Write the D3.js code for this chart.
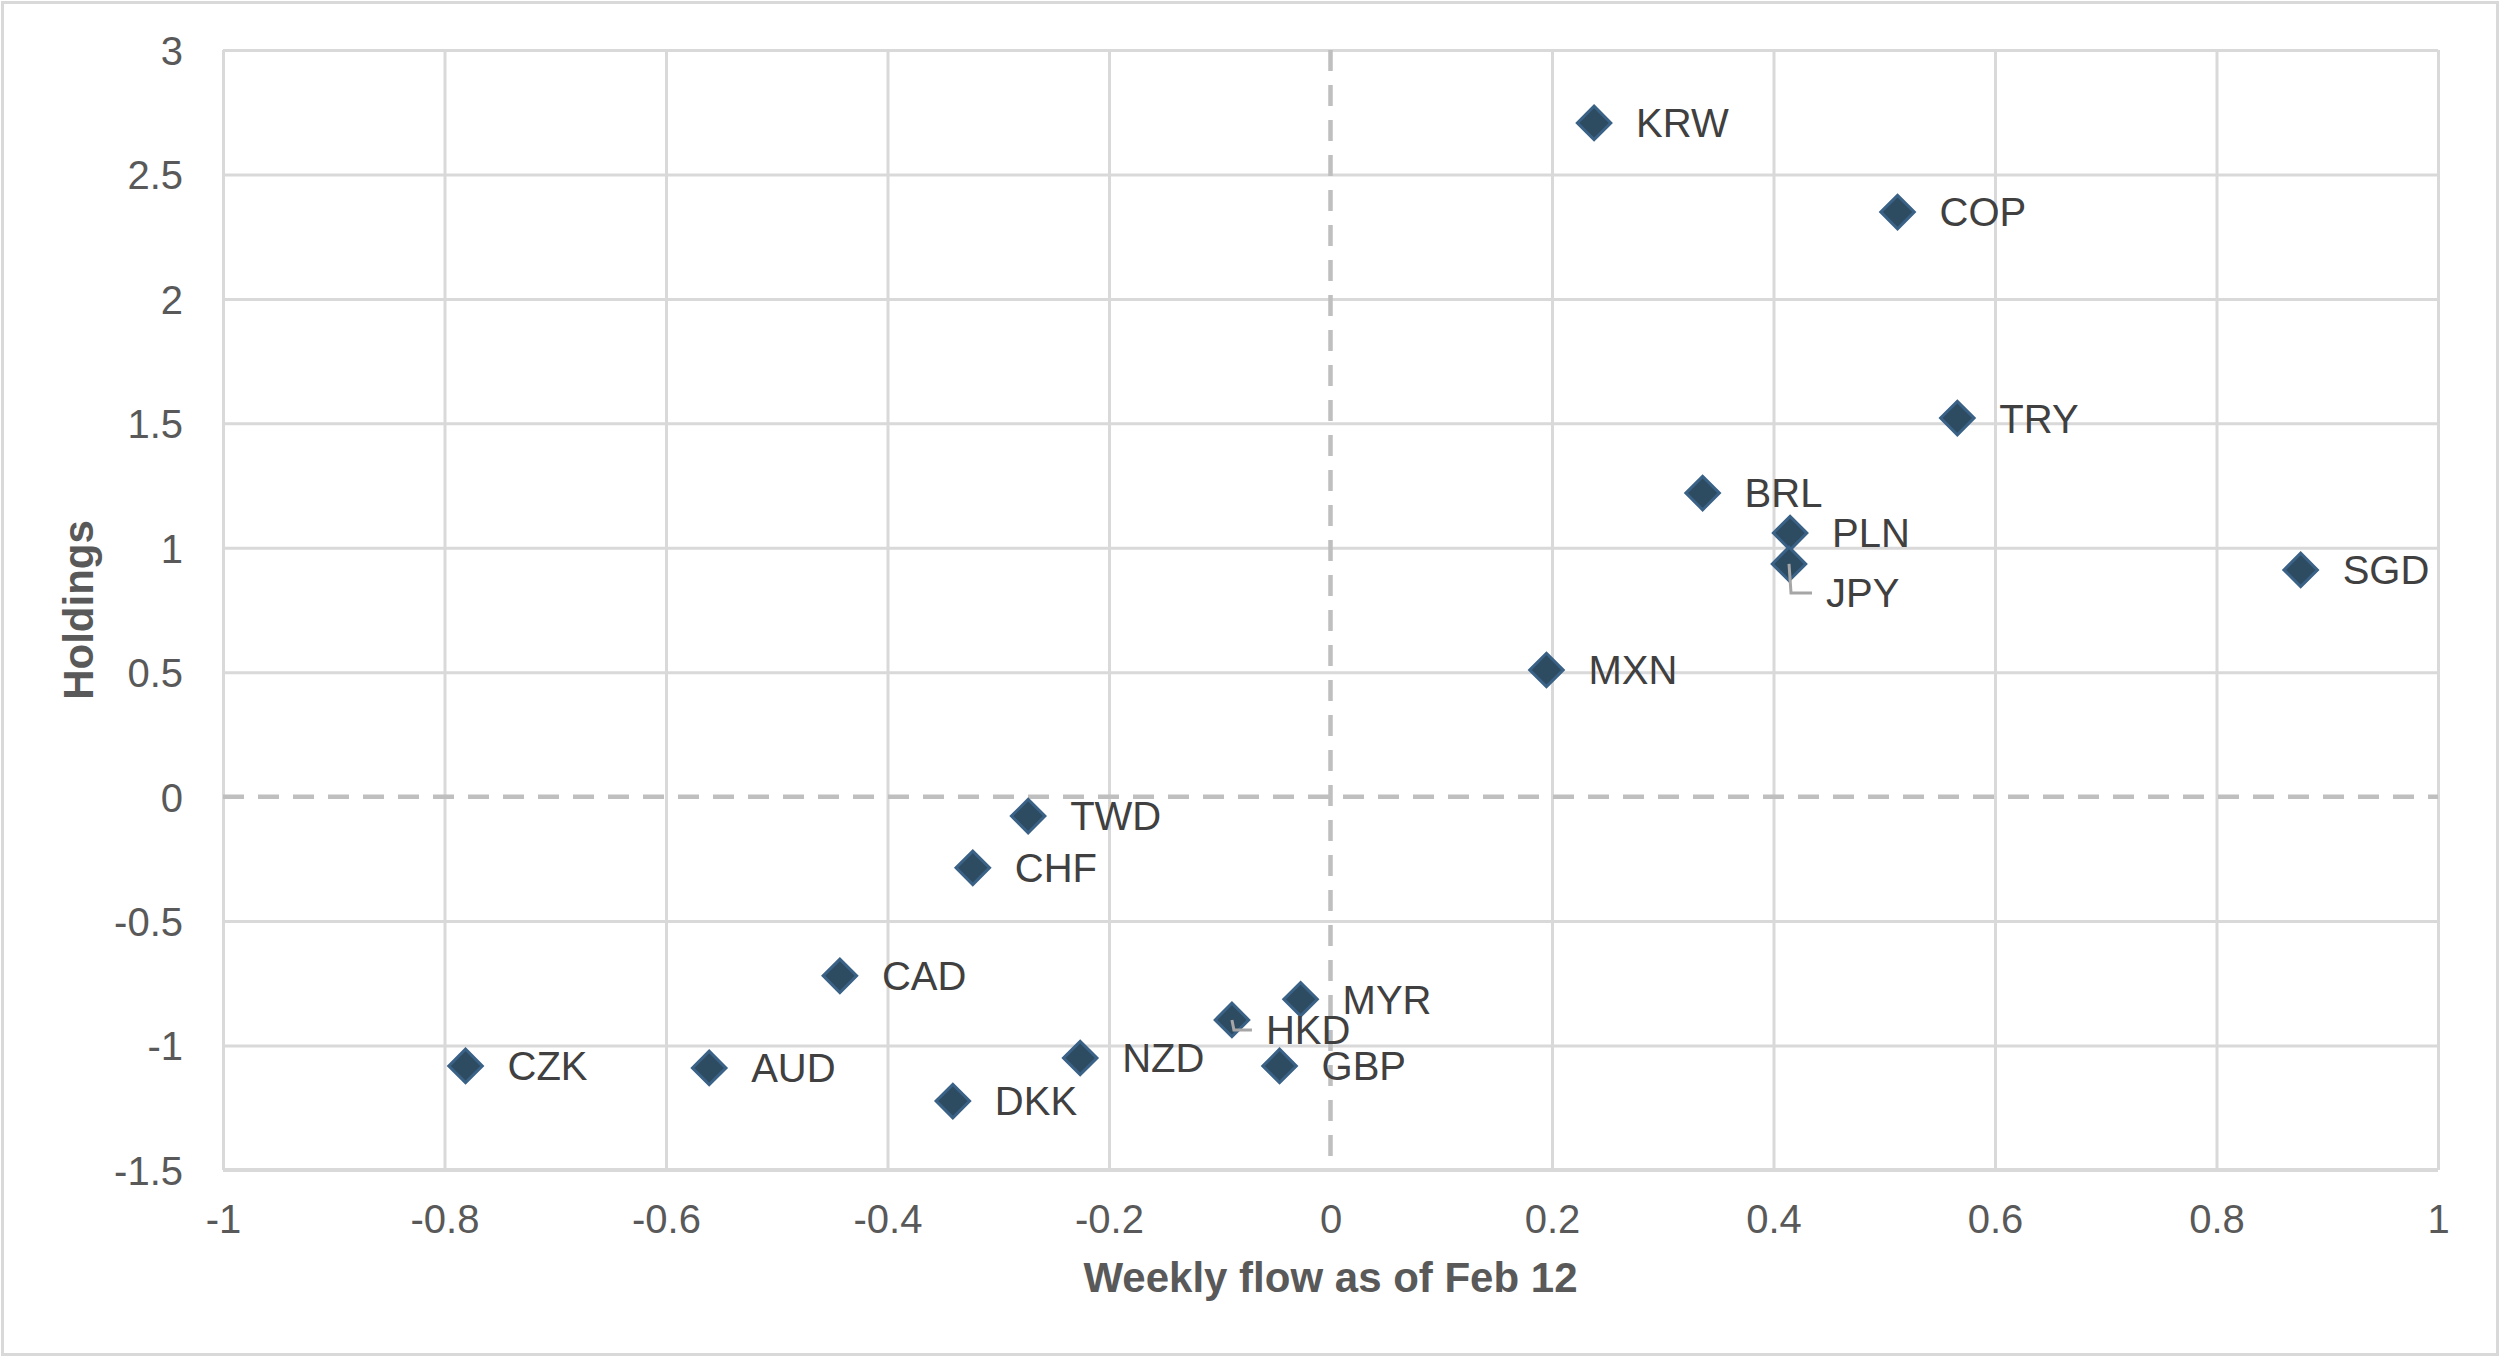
<!DOCTYPE html>
<html>
<head>
<meta charset="utf-8">
<script src="https://cdn.jsdelivr.net/npm/d3@7"></script>
<style>
  body { margin: 0; background: #fff; }
  svg { display: block; font-family: "Liberation Sans", Arial, sans-serif; }
</style>
</head>
<body>
<svg id="chart"></svg>
<script>
'use strict';

let WIDTH = 2500;
let HEIGHT = 1358;

// currency, weekly flow, holdings
let currencies = ['KRW', 'COP', 'TRY', 'BRL', 'PLN', 'JPY', 'SGD', 'MXN', 'TWD', 'CHF',
                  'CAD', 'MYR', 'HKD', 'NZD', 'GBP', 'CZK', 'AUD', 'DKK'];
let flows = [0.238, 0.512, 0.566, 0.336, 0.415, 0.414, 0.876, 0.195, -0.273, -0.323,
             -0.443, -0.027, -0.089, -0.226, -0.046, -0.781, -0.561, -0.341];
let holdings = [2.707, 2.349, 1.521, 1.220, 1.059, 0.935, 0.911, 0.509, -0.078, -0.286,
                -0.720, -0.814, -0.897, -1.050, -1.082, -1.082, -1.090, -1.223];

let xTicks = [-1, -0.8, -0.6, -0.4, -0.2, 0, 0.2, 0.4, 0.6, 0.8, 1];
let yTicks = [-1.5, -1, -0.5, 0, 0.5, 1, 1.5, 2, 2.5, 3];

let xTitle = 'Weekly flow as of Feb 12';
let yTitle = 'Holdings';

// labels that were dragged away from the marker (pixel offsets, with a leader line)
let moved = {
    JPY: { dx: 37, dy: 29 },
    HKD: { dx: 34, dy: 10 }
};

let COLOR = {
    GRID: '#d9d9d9',
    ZERO: '#bfbfbf',
    TICK: '#595959',
    LABEL: '#404040',
    FILL: '#2d4b61',
    STROKE: '#3a6186',
    LEADER: '#a6a6a6'
};

let M = { left: 223, right: 2438, top: 50, bottom: 1170 };

let svg = d3.select('#chart').attr('width', WIDTH).attr('height', HEIGHT);

// outer frame
svg.append('rect')
    .attr('x', 2.5).attr('y', 2.5)
    .attr('width', WIDTH - 5).attr('height', HEIGHT - 6)
    .attr('fill', '#fff')
    .attr('stroke', COLOR.GRID)
    .attr('stroke-width', 3);

let x = d3.scaleLinear().domain([-1, 1]).range([M.left, M.right]);
let y = d3.scaleLinear().domain([-1.5, 3]).range([M.bottom, M.top]);

let fmt = function(d) { return String(+d.toFixed(1)); };

// x gridlines + labels
let gx = svg.append('g')
    .attr('transform', 'translate(0,' + M.bottom + ')')
    .call(d3.axisBottom(x).tickValues(xTicks).tickFormat(fmt)
        .tickSizeInner(-(M.bottom - M.top)).tickSizeOuter(0).tickPadding(36));
gx.select('.domain').remove();
gx.selectAll('.tick line')
    .attr('stroke', COLOR.GRID).attr('stroke-width', 3)
    .attr('display', function(d) { return d === 0 ? 'none' : null; });
gx.selectAll('.tick text')
    .attr('fill', COLOR.TICK).attr('font-size', 40).attr('font-family', null)
    .attr('dy', null).attr('y', 63);

// y gridlines + labels
let gy = svg.append('g')
    .attr('transform', 'translate(' + M.left + ',0)')
    .call(d3.axisLeft(y).tickValues(yTicks).tickFormat(fmt)
        .tickSizeInner(-(M.right - M.left)).tickSizeOuter(0).tickPadding(40));
gy.select('.domain').remove();
gy.selectAll('.tick line')
    .attr('stroke', COLOR.GRID).attr('stroke-width', 3)
    .attr('display', function(d) { return d === 0 ? 'none' : null; });
gy.selectAll('.tick text')
    .attr('fill', COLOR.TICK).attr('font-size', 40).attr('font-family', null)
    .attr('dy', '0.36em');

// bottom axis line a bit heavier
svg.append('line')
    .attr('x1', M.left).attr('x2', M.right)
    .attr('y1', y(-1.5)).attr('y2', y(-1.5))
    .attr('stroke', COLOR.GRID).attr('stroke-width', 4);

// dashed zero lines
svg.append('line')
    .attr('x1', x(0)).attr('x2', x(0))
    .attr('y1', M.top).attr('y2', M.bottom)
    .attr('stroke', COLOR.ZERO).attr('stroke-width', 4.5)
    .attr('stroke-dasharray', '21,14');
svg.append('line')
    .attr('x1', M.left).attr('x2', M.right)
    .attr('y1', y(0)).attr('y2', y(0))
    .attr('stroke', COLOR.ZERO).attr('stroke-width', 4.5)
    .attr('stroke-dasharray', '21,14');

// points
let points = currencies.map(function(c, i) {
    return { name: c, x: flows[i], y: holdings[i] };
});

let diamond = d3.symbol().type(d3.symbolSquare).size(560);

svg.append('g').selectAll('path')
    .data(points)
    .enter()
    .append('path')
    .attr('d', diamond)
    .attr('transform', function(d) {
        return 'translate(' + x(d.x) + ',' + y(d.y) + ') rotate(45)';
    })
    .attr('fill', COLOR.FILL)
    .attr('stroke', COLOR.STROKE)
    .attr('stroke-width', 3);

// leader lines for moved labels
svg.append('g').selectAll('path')
    .data(points.filter(function(d) { return moved[d.name]; }))
    .enter()
    .append('path')
    .attr('d', function(d) {
        let m = moved[d.name];
        let px = x(d.x), py = y(d.y);
        return 'M' + px + ',' + py + 'L' + (px + 2) + ',' + (py + m.dy) +
               'L' + (px + m.dx - 14) + ',' + (py + m.dy);
    })
    .attr('fill', 'none')
    .attr('stroke', COLOR.LEADER)
    .attr('stroke-width', 3);

// labels
svg.append('g').selectAll('text')
    .data(points)
    .enter()
    .append('text')
    .attr('x', function(d) { return x(d.x) + (moved[d.name] ? moved[d.name].dx : 42); })
    .attr('y', function(d) { return y(d.y) + (moved[d.name] ? moved[d.name].dy : 0); })
    .attr('dy', '0.36em')
    .attr('font-size', 40)
    .attr('fill', COLOR.LABEL)
    .text(function(d) { return d.name; });

// axis titles
svg.append('text')
    .attr('x', (M.left + M.right) / 2)
    .attr('y', 1292)
    .attr('text-anchor', 'middle')
    .attr('font-size', 42)
    .attr('font-weight', 'bold')
    .attr('fill', COLOR.TICK)
    .text(xTitle);

svg.append('text')
    .attr('transform', 'translate(93,' + (M.top + M.bottom) / 2 + ') rotate(-90)')
    .attr('text-anchor', 'middle')
    .attr('font-size', 42)
    .attr('font-weight', 'bold')
    .attr('fill', COLOR.TICK)
    .text(yTitle);
</script>
</body>
</html>
